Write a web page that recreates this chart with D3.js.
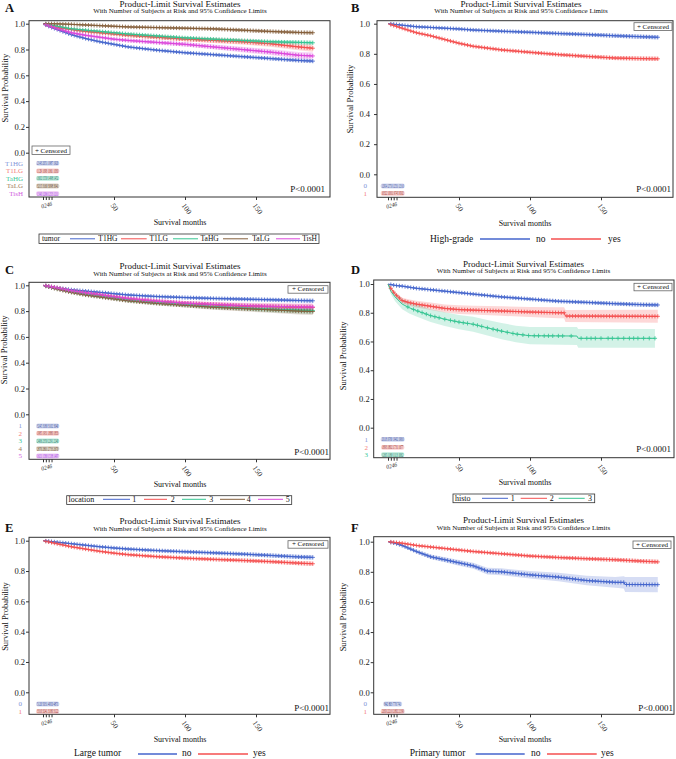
<!DOCTYPE html>
<html><head><meta charset="utf-8">
<script src="https://cdn.jsdelivr.net/npm/d3@7"></script>
<style>body{margin:0;background:#fff}svg{display:block}</style>
</head><body><div id="chart"></div>
<script>
// ---------------- DATA ----------------
const titleText = "Product-Limit Survival Estimates";
const subtitleText = "With Number of Subjects at Risk and 95% Confidence Limits";
const yTicks = [0, 0.2, 0.4, 0.6, 0.8, 1.0];
const xTicksMain = [50, 100, 150];
const riskTimes = [0, 2, 4, 6];
const monthsStd = [0,5,10,20,30,40,50,60,80,100,120,140,160,180,190];
const censorGrid = [2,4,6,8,10,12,14,16,18,20,22,24,26,28,30,32,34,36,38,40,42,44,46,48,50,52,54,56,58,60,62,64,66,68,70,72,74,76,78,80,82,84,86,88,90,92,94,96,98,100,102,104,106,108,110,112,114,116,118,120,122,124,126,128,130,132,134,136,138,140,142,144,146,148,150,152,154,156,158,160,162,164,166,168,170,172,174,176,178,180,182,184,186,188,190];
const ciNarrow = [0,0.003,0.004,0.005,0.006,0.007,0.008,0.008,0.009,0.010,0.011,0.012,0.013,0.014,0.015];
const ciMedium = [0,0.005,0.007,0.009,0.010,0.011,0.012,0.013,0.015,0.017,0.019,0.021,0.023,0.026,0.028];

// A: tumor
const groupsA = ["T1HG","T1LG","TaHG","TaLG","TisH"];
const survA_T1HG = [1,0.975,0.955,0.915,0.885,0.86,0.84,0.82,0.795,0.775,0.76,0.745,0.73,0.715,0.71];
const survA_T1LG = [1,0.985,0.97,0.955,0.94,0.93,0.92,0.91,0.895,0.88,0.87,0.86,0.845,0.82,0.81];
const survA_TaHG = [1,0.99,0.98,0.96,0.95,0.94,0.93,0.92,0.905,0.89,0.88,0.87,0.86,0.855,0.852];
const survA_TaLG = [1,1,0.999,0.995,0.99,0.985,0.98,0.975,0.97,0.965,0.96,0.95,0.94,0.932,0.93];
const survA_TisH = [1,0.98,0.96,0.93,0.91,0.895,0.88,0.87,0.855,0.84,0.82,0.8,0.78,0.755,0.75];
const riskA_T1HG = ["2143","2051","1987","1920"];
const riskA_T1LG = ["1129","1093","1061","1030"];
const riskA_TaHG = ["1602","1550","1498","1452"];
const riskA_TaLG = ["3215","3160","3098","3041"];
const riskA_TisH = ["1340","1296","1253","1211"];

// B: high-grade
const rowsB = ["0","1"];
const legendB = ["no","yes"];
const survB_no  = [1,0.995,0.99,0.98,0.975,0.97,0.965,0.958,0.95,0.943,0.935,0.928,0.92,0.913,0.91];
const survB_yes = [1,0.985,0.97,0.94,0.92,0.895,0.87,0.85,0.826,0.81,0.795,0.783,0.772,0.768,0.767];
const riskB_no  = ["12954","12750","12531","12310"];
const riskB_yes = ["10322","10011","9745","9502"];

// C: location
const groupsC = ["1","2","3","4","5"];
const survC_1 = [1,0.99,0.98,0.965,0.955,0.945,0.935,0.925,0.913,0.905,0.898,0.893,0.888,0.882,0.88];
const survC_2 = [1,0.99,0.98,0.955,0.94,0.925,0.91,0.895,0.875,0.86,0.85,0.84,0.835,0.83,0.828];
const survC_3 = [1,0.985,0.975,0.95,0.93,0.915,0.9,0.885,0.865,0.85,0.835,0.825,0.815,0.808,0.805];
const survC_4 = [1,0.985,0.97,0.945,0.925,0.91,0.895,0.88,0.86,0.845,0.83,0.82,0.81,0.8,0.797];
const survC_5 = [1,0.99,0.98,0.958,0.942,0.928,0.912,0.898,0.878,0.862,0.852,0.843,0.837,0.833,0.832];
const riskC_1 = ["3245","3180","3102","3040"];
const riskC_2 = ["1985","1931","1880","1833"];
const riskC_3 = ["2406","2350","2291","2240"];
const riskC_4 = ["2870","2801","2733","2670"];
const riskC_5 = ["1621","1580","1538","1497"];

// D: histo
const groupsD = ["1","2","3"];
const survD_1 = [1,0.99,0.985,0.97,0.96,0.95,0.94,0.93,0.91,0.895,0.88,0.872,0.863,0.856,0.854];
const timesD_2 = [0,2,5,10,15,20,30,40,50,60,80,100,120,124,125,190];
const survD_2  = [1,0.97,0.93,0.885,0.87,0.86,0.845,0.83,0.822,0.818,0.812,0.805,0.8,0.8,0.777,0.775];
const ciD_2    = [0,0.01,0.015,0.02,0.022,0.024,0.026,0.028,0.03,0.031,0.033,0.035,0.038,0.038,0.042,0.045];
const timesD_3 = [0,2,5,10,15,20,30,40,50,60,70,80,90,100,133,134,188];
const survD_3  = [1,0.95,0.91,0.86,0.835,0.815,0.78,0.755,0.735,0.72,0.695,0.672,0.652,0.64,0.638,0.622,0.622];
const ciD_3    = [0,0.02,0.03,0.035,0.04,0.042,0.045,0.048,0.05,0.052,0.054,0.056,0.058,0.06,0.062,0.065,0.065];
const censorD_3 = [14,18,21,24,27,30,33,36,40,44,47,50,53,56,60,63,66,70,74,77,80,84,88,91,95,99,103,106,110,113,116,120,123,129,136,140,143,146,150,155,158,162,166,170,173,176,180,184,188];
const riskD_1 = ["20118","19760","19402","19060"];
const riskD_2 = ["1893","1802","1731","1677"];
const riskD_3 = ["1265","1180","1113","1062"];

// E: large tumor
const rowsE = ["0","1"];
const legendE = ["no","yes"];
const survE_no  = [1,0.995,0.99,0.98,0.97,0.96,0.952,0.945,0.935,0.927,0.92,0.912,0.903,0.893,0.89];
const survE_yes = [1,0.99,0.98,0.96,0.945,0.93,0.918,0.908,0.895,0.885,0.877,0.87,0.862,0.852,0.848];
const riskE_no  = ["5120","5031","4950","4871"];
const riskE_yes = ["3310","3241","3180","3122"];

// F: primary tumor
const rowsF = ["0","1"];
const legendF = ["no","yes"];
const timesF_no = [0,5,10,20,30,40,50,60,70,80,100,120,140,160,166,167,190];
const survF_no  = [1,0.99,0.975,0.935,0.9,0.88,0.86,0.84,0.805,0.8,0.78,0.765,0.742,0.73,0.73,0.716,0.715];
const ciF_no    = [0,0.005,0.008,0.012,0.015,0.017,0.019,0.02,0.022,0.023,0.025,0.028,0.032,0.036,0.04,0.05,0.05];
const survF_yes = [1,0.995,0.99,0.975,0.965,0.955,0.945,0.935,0.92,0.905,0.895,0.887,0.88,0.87,0.866];
const riskF_no  = ["842","803","770","741"];
const riskF_yes = ["22650","22210","21802","21390"];

// ---------------- STYLE ----------------
const FONT = '"Liberation Serif","Times New Roman",serif';
const C = {
  blue:   {line:"#4565cc", lab:"#7f93d8", num:"#2f3f8f"},
  red:    {line:"#f44f4f", lab:"#f47b7b", num:"#8f2a22"},
  green:  {line:"#35c592", lab:"#3cc89a", num:"#1e6e5e"},
  brown:  {line:"#85603c", lab:"#a08060", num:"#5a3b1c"},
  magenta:{line:"#dc48dc", lab:"#d260e0", num:"#9b3fe8"}
};

function mk(name, times, surv, ci, col, risk, censor) {
  return {name, times, surv, ci, color: col.line, lab: col.lab, num: col.num, risk, censor};
}

const panels = [
 { letter:"A", lx:5, ly:11.7, tx:180, ty:6.5, sy:13.2,
   box:{l:29,t:20.7,r:330,b:197}, x0:43, yZero:152.7, yOne:23.7, yPad:1, ylx:5,
   series:[mk(groupsA[0],monthsStd,survA_T1HG,ciNarrow,C.blue,riskA_T1HG),
           mk(groupsA[1],monthsStd,survA_T1LG,ciMedium,C.red,riskA_T1LG),
           mk(groupsA[2],monthsStd,survA_TaHG,ciNarrow,C.green,riskA_TaHG),
           mk(groupsA[3],monthsStd,survA_TaLG,ciNarrow,C.brown,riskA_TaLG),
           mk(groupsA[4],monthsStd,survA_TisH,ciMedium,C.magenta,riskA_TisH)],
   rowY:[163.3,171,178.4,186,193.6], rowX:23, rowFont:7,
   cens:{x:32,y:146,w:38,h:8.5}, p:{x:325,y:192}, xt:{x:180,y:225},
   legend:{box:[39,234,280,9.5], fs:7.5, base:241.3, ly:238.8, title:"tumor", titleX:42,
           items:[[70,95,98.3],[121,146.7,149.5],[173,198,200.5],[223,248,252.3],[276,300,302.3]]}},
 { letter:"B", lx:351, ly:11.7, tx:521, ty:6.5, sy:13.2,
   box:{l:377,t:20.7,r:673,b:197.3}, x0:388, yZero:174.3, yOne:23.7, yPad:4, ylx:350,
   series:[mk(legendB[0],monthsStd,survB_no,ciNarrow,C.blue,riskB_no),
           mk(legendB[1],monthsStd,survB_yes,ciNarrow,C.red,riskB_yes)],
   rowLabels:rowsB, rowY:[186,193.3], rowX:367, rowFont:7,
   cens:{x:634,y:22.7,w:38,h:7.8}, p:{x:671,y:192}, xt:{x:525,y:226},
   legend:{fs:9.5, base:241.7, ly:239, title:"High-grade", titleX:430, lw:1.3,
           items:[[480,530,536],[551,601,608]]}},
 { letter:"C", lx:5, ly:274, tx:180, ty:269, sy:276,
   box:{l:29,t:282.3,r:330,b:459.3}, x0:43, yZero:414.3, yOne:285.3, yPad:1, ylx:4,
   series:[mk(groupsC[0],monthsStd,survC_1,ciNarrow,C.blue,riskC_1),
           mk(groupsC[1],monthsStd,survC_2,ciMedium,C.red,riskC_2),
           mk(groupsC[2],monthsStd,survC_3,ciMedium,C.green,riskC_3),
           mk(groupsC[3],monthsStd,survC_4,ciMedium,C.brown,riskC_4),
           mk(groupsC[4],monthsStd,survC_5,ciMedium,C.magenta,riskC_5)],
   rowY:[426,433.4,441,448.7,456], rowX:22, rowFont:7,
   cens:{x:288,y:285.7,w:40,h:7.5}, p:{x:329,y:455}, xt:{x:180,y:487.3},
   legend:{box:[66.7,495.7,225,8.8], fs:8, base:502.4, ly:499.3, title:"location", titleX:68.5,
           items:[[103,130,132.3],[144,167,170.7],[182,206,209.3],[220,245,246.7],[258,283,285.7]]}},
 { letter:"D", lx:351, ly:274, tx:523.5, ty:266.5, sy:273.2,
   box:{l:373.7,t:280,r:674,b:457.7}, x0:388, yZero:427.7, yOne:284, yPad:1, ylx:343,
   series:[mk(groupsD[0],monthsStd,survD_1,ciNarrow,C.blue,riskD_1),
           mk(groupsD[1],timesD_2,survD_2,ciD_2,C.red,riskD_2),
           mk(groupsD[2],timesD_3,survD_3,ciD_3,C.green,riskD_3,censorD_3)],
   rowY:[439.3,447.3,454.7], rowX:368, rowFont:7,
   cens:{x:634,y:283.3,w:38,h:7.5}, p:{x:671,y:451.7}, xt:{x:525,y:485},
   legend:{box:[453,494,141.7,8.7], fs:8, base:501, ly:498.3, title:"histo", titleX:455,
           items:[[482,508,510.7],[520.7,547,549.7],[558.7,584.7,588]]}},
 { letter:"E", lx:5, ly:531.5, tx:180, ty:524, sy:530.5,
   box:{l:29,t:537.3,r:330,b:714.3}, x0:43, yZero:692.3, yOne:540.7, yPad:1, ylx:5,
   series:[mk(legendE[0],monthsStd,survE_no,ciNarrow,C.blue,riskE_no),
           mk(legendE[1],monthsStd,survE_yes,ciNarrow,C.red,riskE_yes)],
   rowLabels:rowsE, rowY:[704,711.3], rowX:22, rowFont:7,
   cens:{x:288,y:540.7,w:40,h:7.5}, p:{x:329,y:711}, xt:{x:180,y:742.3},
   legend:{fs:9.5, base:755.7, ly:754, title:"Large tumor", titleX:74, lw:1.3,
           items:[[138,177,182],[198,248,253]]}},
 { letter:"F", lx:351, ly:531.5, tx:523.5, ty:523.3, sy:530.2,
   box:{l:373.7,t:536.7,r:674,b:714.3}, x0:388, yZero:692.3, yOne:541.7, yPad:1, ylx:343,
   series:[mk(legendF[0],timesF_no,survF_no,ciF_no,C.blue,riskF_no),
           mk(legendF[1],monthsStd,survF_yes,ciNarrow,C.red,riskF_yes)],
   rowLabels:rowsF, rowY:[704,711.3], rowX:367, rowFont:7,
   cens:{x:633,y:541,w:38,h:7.5}, p:{x:673,y:711}, xt:{x:525,y:742.3},
   legend:{fs:9.5, base:755.7, ly:754, title:"Primary tumor", titleX:409.7, lw:1.3,
           items:[[475.7,524.7,531],[547,596.7,601]]}}
];

// ---------------- DRAW ----------------
const svg = d3.select("#chart").append("svg").attr("width",676).attr("height",759)
  .style("font-family", FONT);
svg.append("rect").attr("width",676).attr("height",759).attr("fill","#fff");

function txt(g, x, y, s, size, opts={}) {
  const t = g.append("text").attr("x",x).attr("y",y).text(s)
    .attr("font-family",FONT).attr("font-size",size).attr("fill",opts.fill||"#111");
  if (opts.anchor) t.attr("text-anchor",opts.anchor);
  if (opts.weight) t.attr("font-weight",opts.weight);
  return t;
}

panels.forEach(p => {
  const g = svg.append("g");
  const x = d3.scaleLinear().domain([0,200]).range([p.x0, p.x0+284]);
  const y = d3.scaleLinear().domain([0,1]).range([p.yZero, p.yOne]);

  // confidence bands
  p.series.forEach(s => {
    const pts = s.times.map((t,i)=>({t, v:s.surv[i], c:s.ci[i]}));
    g.append("path").datum(pts)
      .attr("d", d3.area().x(d=>x(d.t)).y0(d=>y(Math.max(0,d.v-d.c))).y1(d=>y(Math.min(1,d.v+d.c))))
      .attr("fill", s.color).attr("fill-opacity", 0.22).attr("stroke","none");
  });
  // survival lines
  p.series.forEach(s => {
    g.append("path").datum(s.times.map((t,i)=>[t,s.surv[i]]))
      .attr("d", d3.line().x(d=>x(d[0])).y(d=>y(d[1])))
      .attr("fill","none").attr("stroke",s.color).attr("stroke-width",1);
  });
  // censor marks
  p.series.forEach(s => {
    const f = d3.scaleLinear().domain(s.times).range(s.surv);
    const tmax = s.times[s.times.length-1];
    const cts = (s.censor || censorGrid).filter(t => t <= tmax);
    const m = g.append("g").attr("stroke", s.color).attr("stroke-width", 0.85).attr("fill","none");
    cts.forEach(t => {
      const cx = x(t), cy = y(f(t));
      m.append("path").attr("d", `M${cx-2.1},${cy}H${cx+2.1}M${cx},${cy-2.1}V${cy+2.1}`);
    });
  });

  // frame
  g.append("rect").attr("x",p.box.l).attr("y",p.box.t)
    .attr("width",p.box.r-p.box.l).attr("height",p.box.b-p.box.t)
    .attr("fill","none").attr("stroke","#333").attr("stroke-width",1);

  // y axis
  const ya = g.append("g").attr("transform",`translate(${p.box.l},0)`)
    .call(d3.axisLeft(y).tickValues(yTicks).tickFormat(d3.format(".1f")).tickSize(3).tickPadding(p.yPad));
  ya.select(".domain").remove();
  ya.selectAll("line").attr("stroke","#333");
  ya.selectAll("text").attr("font-family",FONT).attr("font-size",8.5).attr("fill","#222");

  // x axis (risk-table ticks unlabeled individually; their labels are packed below)
  const xa = g.append("g").attr("transform",`translate(0,${p.box.b})`)
    .call(d3.axisBottom(x).tickValues(riskTimes.concat(xTicksMain))
      .tickFormat(d => xTicksMain.includes(d) ? d3.format("d")(d) : "").tickSize(3));
  xa.select(".domain").remove();
  xa.selectAll("line").attr("stroke","#333");
  xa.selectAll("text").attr("x",0).attr("y",0).attr("dy","0.35em")
    .attr("transform","translate(-2,7) rotate(55)")
    .style("text-anchor","start")
    .attr("font-family",FONT).attr("font-size",7.5).attr("fill","#222");
  // packed risk-time labels (overprinted in the original)
  const rx = x(riskTimes[Math.floor(riskTimes.length/2)]) - 1.5;
  txt(g, 0, 0, riskTimes.join(""), 6, {anchor:"middle", fill:"#222"})
    .attr("textLength", 11).attr("lengthAdjust","spacingAndGlyphs")
    .attr("font-style","italic")
    .attr("transform",`translate(${rx},${p.box.b+10}) rotate(-15)`);

  // y title
  txt(g, 0, 0, "Survival Probability", 8.5, {anchor:"middle"})
    .attr("transform",`translate(${p.ylx+3},${(p.yZero+p.yOne)/2}) rotate(-90)`);
  // x title
  txt(g, p.xt.x, p.xt.y, "Survival months", 8, {anchor:"middle"});
  // titles
  txt(g, p.tx, p.ty, titleText, 9, {anchor:"middle"});
  txt(g, p.tx, p.sy, subtitleText, 7, {anchor:"middle"});
  txt(g, p.lx, p.ly, p.letter, 12.5, {weight:"bold"});

  // censored legend box
  g.append("rect").attr("x",p.cens.x).attr("y",p.cens.y).attr("width",p.cens.w).attr("height",p.cens.h)
    .attr("fill","#fff").attr("stroke","#666").attr("stroke-width",0.8);
  txt(g, p.cens.x+p.cens.w/2, p.cens.y+p.cens.h-1.8, "+ Censored", 7, {anchor:"middle"});

  // p-value
  txt(g, p.p.x, p.p.y, "P<0.0001", 9, {anchor:"end"});

  // at-risk rows (numbers overprinted into a compact block, as in the original)
  const rxMid = x(riskTimes[Math.floor(riskTimes.length/2)]) - 1;
  p.series.forEach((s,i) => {
    const ry = p.rowY[i];
    const lbl = p.rowLabels ? p.rowLabels[i] : s.name;
    txt(g, p.rowX, ry+2.4, lbl, p.rowFont, {anchor:"end", fill:s.lab});
    const str = s.risk.join(" ");
    const len = Math.min(22, str.length * 1.12);
    g.append("rect").attr("x", rxMid-len/2-1).attr("y", ry-2.4).attr("width", len+2).attr("height", 4.8)
      .attr("rx", 2).attr("fill", s.lab).attr("fill-opacity", 0.35);
    txt(g, rxMid, ry+2, str, 6, {anchor:"middle", fill:s.num})
      .attr("textLength", len).attr("lengthAdjust","spacingAndGlyphs");
  });

  // legend
  const L = p.legend;
  if (L.box) {
    g.append("rect").attr("x",L.box[0]).attr("y",L.box[1]).attr("width",L.box[2]).attr("height",L.box[3])
      .attr("fill","#fff").attr("stroke","#333").attr("stroke-width",0.8);
  }
  txt(g, L.titleX, L.base, L.title, L.fs);
  p.series.forEach((s,i) => {
    const it = L.items[i];
    g.append("line").attr("x1",it[0]).attr("x2",it[1]).attr("y1",L.ly).attr("y2",L.ly)
      .attr("stroke",s.color).attr("stroke-width",L.lw||1);
    txt(g, it[2], L.base, s.name, L.fs);
  });
});
</script></body></html>
